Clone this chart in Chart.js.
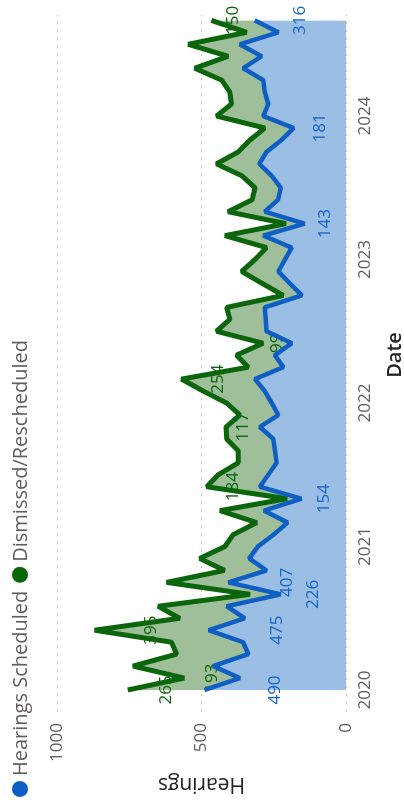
<!DOCTYPE html>
<html>
<head>
<meta charset="utf-8">
<script src="https://cdn.jsdelivr.net/npm/chart.js@4.4.1/dist/chart.umd.min.js"></script>
<style>
  html, body { margin: 0; padding: 0; background: #fff; overflow: hidden; }
  body { width: 404px; height: 807px; position: relative; }
  /* the chart is drawn landscape and turned a quarter turn to the left */
  #wrap { position: absolute; left: 0; top: 0; width: 807px; height: 404px;
          transform-origin: 0 0; transform: translate(0, 807px) rotate(-90deg); }
</style>
</head>
<body>
<div id="wrap"><canvas id="chart" width="807" height="404"></canvas></div>
<script>
const months = [
  "2020-01","2020-02","2020-03","2020-04","2020-05","2020-06","2020-07","2020-08","2020-09","2020-10","2020-11","2020-12",
  "2021-01","2021-02","2021-03","2021-04","2021-05","2021-06","2021-07","2021-08","2021-09","2021-10","2021-11","2021-12",
  "2022-01","2022-02","2022-03","2022-04","2022-05","2022-06","2022-07","2022-08","2022-09","2022-10","2022-11","2022-12",
  "2023-01","2023-02","2023-03","2023-04","2023-05","2023-06","2023-07","2023-08","2023-09","2023-10","2023-11","2023-12",
  "2024-01","2024-02","2024-03","2024-04","2024-05","2024-06","2024-07","2024-08","2024-09"
];
const scheduled = [
  490, 367, 460, 338, 356, 475, 350, 413, 226, 407, 275, 335,
  305, 250, 202, 284, 154, 298, 269, 240, 246, 252, 298, 234,
  257, 281, 315, 217, 246, 188, 275, 278, 281, 153, 194, 234,
  211, 188, 286, 143, 281, 235, 226, 257, 300, 275, 223, 181,
  286, 269, 281, 286, 356, 292, 367, 234, 316
];
const dismissed = [
  265, 193, 277, 248, 248, 395, 225, 237, 106, 214, 145, 171,
  114, 140, 107, 152, 50, 184, 173, 133, 127, 161, 117, 133,
  156, 213, 254, 121, 133, 99, 173, 124, 132, 64, 96, 127,
  104, 87, 133, 65, 127, 90, 89, 103, 148, 98, 109, 100,
  162, 127, 121, 144, 167, 116, 179, 110, 150
];
const yearTicks = ["2020", "2021", "2022", "2023", "2024"];
const yearTickIdx = [0, 12, 24, 36, 48];
const valueTicks = [0, 500, 1000];
// points that carry a data label in the picture
const scheduledLabelIdx = [0, 5, 8, 9, 16, 39, 47, 56];
const dismissedLabelIdx = [0, 1, 5, 17, 22, 26, 29, 56];

const FONT = '"Segoe UI", "Open Sans", sans-serif';
const blueLine = "#0F5EC4", blueFill = "#9BBEE4";
const greenLine = "#0B650B", greenFill = "#9EBF9A";

Chart.defaults.font.family = FONT;

const valueLabels = {
  id: "valueLabels",
  // after the fills, before the lines
  beforeDatasetsDraw(chart) {
    const { ctx, scales: { x, y } } = chart;
    ctx.save();
    ctx.font = "17px " + FONT;
    ctx.textAlign = "center";
    ctx.textBaseline = "middle";
    ctx.fillStyle = "#1664C8";
    scheduledLabelIdx.forEach(i => {
      ctx.fillText(scheduled[i], x.getPixelForValue(i), y.getPixelForValue(scheduled[i] / 2));
    });
    ctx.fillStyle = greenLine;
    dismissedLabelIdx.forEach(i => {
      ctx.fillText(dismissed[i], x.getPixelForValue(i), y.getPixelForValue(scheduled[i] + dismissed[i] / 2));
    });
    ctx.restore();
  }
};

const legendAndTitle = {
  id: "legendAndTitle",
  afterDraw(chart) {
    const { ctx } = chart;
    ctx.save();
    ctx.font = "20px " + FONT;
    ctx.textBaseline = "middle";
    ctx.textAlign = "left";
    let xPos = 10;
    chart.data.datasets.forEach(ds => {
      ctx.fillStyle = ds.borderColor;
      ctx.beginPath();
      ctx.arc(xPos + 8, 20, 8, 0, Math.PI * 2);
      ctx.fill();
      ctx.fillStyle = "#605E5C";
      ctx.fillText(ds.label, xPos + 21, 21);
      xPos += 21 + ctx.measureText(ds.label).width + 8;
    });

    // x axis title, centred on the visual right of the y axis
    ctx.font = "600 20px " + FONT;
    ctx.fillStyle = "#252423";
    ctx.textAlign = "center";
    ctx.fillText("Date", 452, 395);
    ctx.restore();
  }
};

new Chart(document.getElementById("chart"), {
  type: "line",
  data: {
    datasets: [{
      label: "Hearings Scheduled",
      data: scheduled.map((v, i) => ({ x: i, y: v, month: months[i] })),
      borderColor: blueLine,
      backgroundColor: blueFill,
      borderWidth: 4.5,
      borderJoinStyle: "bevel",
      pointRadius: 0,
      tension: 0,
      fill: "origin"
    }, {
      label: "Dismissed/Rescheduled",
      data: dismissed.map((v, i) => ({ x: i, y: v, month: months[i] })),
      borderColor: greenLine,
      backgroundColor: greenFill,
      borderWidth: 5,
      borderJoinStyle: "bevel",
      pointRadius: 0,
      tension: 0,
      fill: "-1"
    }]
  },
  options: {
    responsive: false,
    maintainAspectRatio: false,
    animation: false,
    layout: { padding: { left: 10, right: 15, top: 57, bottom: 0 } },
    plugins: {
      legend: { display: false },
      tooltip: { enabled: false },
      filler: { drawTime: "beforeDatasetsDraw" }
    },
    scales: {
      x: {
        type: "linear",
        min: -1.84,
        max: 56.45,
        grid: { display: false, drawTicks: false },
        border: { display: false },
        afterBuildTicks: s => { s.ticks = yearTickIdx.map(v => ({ value: v })); },
        afterFit: s => { s.height = 58; },
        ticks: {
          color: "#605E5C",
          font: { size: 17 },
          padding: 9,
          maxRotation: 0,
          autoSkip: false,
          callback: v => yearTicks[yearTickIdx.indexOf(v)]
        }
      },
      y: {
        stacked: true,
        min: 0,
        max: 1000,
        afterBuildTicks: s => { s.ticks = valueTicks.map(v => ({ value: v })); },
        afterFit: s => { s.width = 85; },
        grid: { color: "#C8C6C4", lineWidth: 1, drawTicks: false, borderDash: [2, 6] },
        border: { display: false, dash: [2, 6] },
        ticks: {
          color: "#605E5C",
          font: { size: 17 },
          padding: 11,
          callback: v => String(v)
        },
        title: {
          display: true,
          text: "Hearings",
          color: "#252423",
          font: { size: 21 },
          padding: { top: 0, bottom: 0 }
        }
      }
    }
  },
  plugins: [valueLabels, legendAndTitle]
});
</script>
</body>
</html>
